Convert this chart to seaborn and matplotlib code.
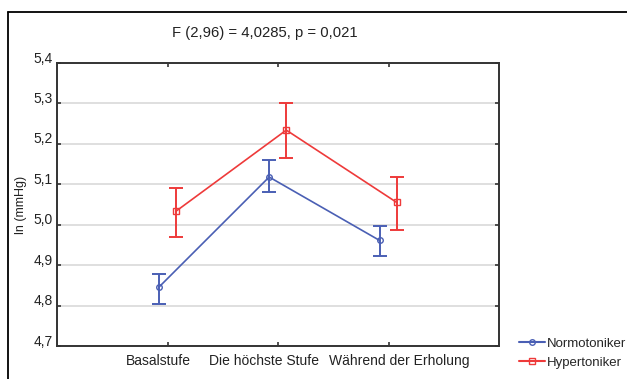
import numpy as np
import pandas as pd
import seaborn as sns
import matplotlib.pyplot as plt
import matplotlib.transforms as mtransforms
from matplotlib.lines import Line2D

# data
stages = ['Basalstufe', 'Die höchste Stufe', 'Während der Erholung']
normo_mean = [4.845, 5.118, 4.961]
normo_low = [4.803, 5.081, 4.922]
normo_high = [4.878, 5.160, 4.996]
hyper_mean = [5.033, 5.234, 5.055]
hyper_low = [4.970, 5.164, 4.988]
hyper_high = [5.091, 5.302, 5.118]
yticks = [4.7, 4.8, 4.9, 5.0, 5.1, 5.2, 5.3, 5.4]

sns.set_theme(style='white')
plt.rcParams['font.family'] = ['Liberation Sans', 'DejaVu Sans']

blue = '#4a5fb4'
red = '#ee3a3a'

df = pd.DataFrame({
    'pos': list(range(1, 4)) * 2,
    'value': normo_mean + hyper_mean,
    'group': ['Normotoniker'] * 3 + ['Hypertoniker'] * 3,
})
# small horizontal dodge between the two groups
dodge = {'Normotoniker': -0.08, 'Hypertoniker': 0.075}
df['x'] = df['pos'] + df['group'].map(dodge)

fig = plt.figure(figsize=(6.27, 3.79), dpi=100)
ax = fig.add_axes([57 / 627, 1 - 346 / 379, (499 - 57) / 627, (346 - 63) / 379])

for g, col, mk, lo, hi in [('Normotoniker', blue, 'o', normo_low, normo_high),
                           ('Hypertoniker', red, 's', hyper_low, hyper_high)]:
    sub = df[df['group'] == g]
    sns.lineplot(data=sub, x='x', y='value', color=col, lw=1.2, ax=ax,
                 marker=mk, markersize=4, markerfacecolor='none',
                 markeredgecolor=col, markeredgewidth=1)
    m = sub['value'].to_numpy()
    ax.errorbar(sub['x'], m, yerr=[m - np.array(lo), np.array(hi) - m],
                fmt='none', ecolor=col, elinewidth=1.4, capsize=5, capthick=1.4)

ax.set_xlim(0, 4)
ax.set_ylim(4.7, 5.4)
ax.set_yticks(yticks)
ax.set_yticklabels([f'{t:.1f}'.replace('.', ',') for t in yticks])
ax.set_xticks([1, 2, 3])
ax.set_xticklabels(stages)
ax.set_xlabel('')
ax.set_ylabel('ln (mmHg)', fontsize=9, color='#222222')
ax.yaxis.set_label_coords(-0.068, 0.5)
ax.grid(axis='y', color='#dcdcdc', lw=1.3)
ax.set_axisbelow(True)
for s in ax.spines.values():
    s.set_color('#333333')
    s.set_linewidth(1.4)
ax.tick_params(axis='both', labelsize=10, colors='#222222')
ax.tick_params(axis='both', which='both', direction='in', length=3, width=1.2,
               top=True, right=True, bottom=True, left=True, color='#333333')
ax.tick_params(axis='x', pad=6)
ax.tick_params(axis='y', pad=3)

# the original's labels sit a bit off their ticks
for lab, dx in zip(ax.get_xticklabels(), [-9, -14, 11]):
    lab.set_transform(lab.get_transform() + mtransforms.ScaledTranslation(dx / 100, 0, fig.dpi_scale_trans))
for lab in ax.get_yticklabels():
    lab.set_transform(lab.get_transform() + mtransforms.ScaledTranslation(0, 6 / 100, fig.dpi_scale_trans))

fig.text(265 / 627, 1 - 33 / 379, 'F (2,96) = 4,0285, p = 0,021', ha='center',
         va='center', fontsize=10.7, color='#222222')

# outer frame (only top and left visible in the crop)
fig.add_artist(Line2D([8 / 627, 1.0], [1 - 12 / 379] * 2, transform=fig.transFigure,
                      color='black', lw=1.3))
fig.add_artist(Line2D([8 / 627] * 2, [0, 1 - 12 / 379], transform=fig.transFigure,
                      color='black', lw=1.3))

handles = [Line2D([], [], color=blue, marker='o', markersize=4, markerfacecolor='none', lw=1.5),
           Line2D([], [], color=red, marker='s', markersize=4, markerfacecolor='none', lw=1.5)]
fig.legend(handles, ['Normotoniker', 'Hypertoniker'], loc='upper left',
           bbox_to_anchor=(512 / 627, 1 - 331 / 379), frameon=False, fontsize=9.5,
           handlelength=2.0, handletextpad=0.15, labelspacing=0.5, borderpad=0)

fig.savefig('out.png', dpi=100)
